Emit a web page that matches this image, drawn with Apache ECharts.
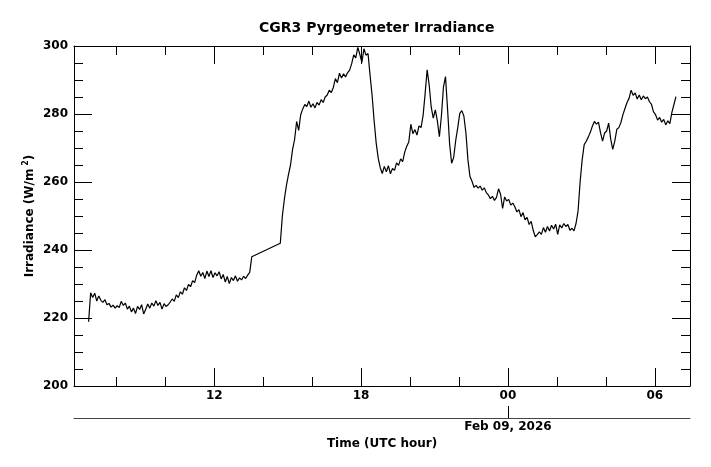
<!DOCTYPE html>
<html>
<head>
<meta charset="utf-8">
<script src="https://cdn.jsdelivr.net/npm/echarts@6/dist/echarts.min.js"></script>
<style>
  html, body { margin: 0; padding: 0; background: #fff; }
  #chart { width: 711px; height: 467px; }
</style>
</head>
<body>
<div id="chart"></div>
<script>
// ---- data (hours since Feb 08 2026 00:00 UTC) ----
const xMin = 6.27;           // left edge of plot (06:16 UTC)
const xMax = 31.44;          // right edge of plot (07:26 UTC next day)
const stepMinutes = 5;

// segment A: starts 06:52 UTC
const startA = 6 + 52 / 60;
const valuesA = [
  218.9, 227.4, 226.0, 227.3, 225.0, 226.5, 225.2, 224.6, 225.4, 223.9,
  224.3, 223.2, 223.8, 222.9, 223.6, 223.1, 224.9, 223.7, 224.4, 222.6,
  223.5, 221.8, 222.9, 221.3, 223.4, 222.5, 223.9, 221.2, 222.6, 224.1,
  222.9, 224.4, 223.5, 225.1, 223.7, 224.6, 222.6, 224.2, 223.4, 223.9,
  224.7, 225.6, 224.9, 226.8, 226.0, 227.7, 227.0, 228.9, 228.1, 229.9,
  229.2, 231.0, 230.4, 232.6, 233.9, 232.3, 233.4, 231.6, 233.8, 232.2,
  233.9, 231.9, 233.3, 232.4, 233.6, 231.5, 232.8, 230.6, 232.2, 230.1,
  231.9, 231.0, 232.4, 230.8, 231.8, 231.2, 232.3, 231.6, 232.6, 233.4,
  238.0
];

// segment B: starts 14:42 UTC (after data gap)
const startB = 14 + 42 / 60;
const valuesB = [
  242.0, 250.0, 255.0, 259.0, 262.2, 265.0, 269.5, 272.5, 277.8, 275.2,
  279.8, 281.5, 282.8, 282.2, 283.8, 282.0, 283.0, 281.8, 283.4, 282.6,
  284.2, 283.4, 285.0, 285.6, 287.0, 286.3, 287.8, 290.4, 289.2, 292.0,
  290.6, 291.8, 290.9, 292.2, 292.9, 294.8, 297.4, 296.5, 299.6, 297.5,
  295.2, 299.2, 297.3, 297.8, 291.5, 285.5, 278.0, 271.5, 267.0, 264.2,
  262.5, 264.6, 263.0, 264.8, 262.4, 264.0, 263.4, 265.6, 264.9, 266.8,
  266.0, 268.8, 270.5, 271.8, 277.0, 274.2, 275.4, 273.8, 276.5, 276.0,
  279.5, 286.0, 293.0, 288.5, 282.0, 278.8, 281.2, 278.0, 273.3, 279.5,
  288.0, 291.0, 281.5, 271.3, 265.5, 267.2, 272.2, 276.0, 280.2, 281.0,
  279.4, 274.5, 266.5, 261.6, 260.2, 258.4, 259.0, 258.2, 258.8, 257.6,
  258.3, 256.9, 256.2, 255.1, 255.8, 254.6, 255.5, 258.0, 256.4, 252.2,
  255.6, 254.4, 254.9, 253.2, 253.8, 252.7, 251.2, 251.9, 249.8, 251.0,
  248.9, 249.6, 247.5, 248.4, 245.8, 243.9, 244.5, 245.3, 244.6, 246.6,
  245.2, 246.9, 245.6, 247.3, 246.2, 247.6, 244.6, 247.4, 246.5, 247.8,
  246.9, 247.5, 245.8, 246.4, 245.6, 247.8, 251.5, 260.0, 266.5, 271.0,
  272.0, 273.2, 274.6, 276.4, 277.8, 277.0, 277.6, 274.5, 272.0, 274.4,
  275.0, 277.3, 272.6, 269.6, 272.0, 275.5, 276.0, 277.5, 279.8, 281.6,
  283.4, 284.6, 287.0, 285.5, 286.2, 284.4, 285.6, 284.2, 285.3, 284.5,
  285.0, 283.6, 282.8, 280.6, 279.8, 278.2, 279.0, 277.6, 278.4, 276.8,
  278.0, 277.2, 280.5, 282.8, 285.1
];

const xTickHours = [12, 18, 24, 30];
const xTickLabels = ['12', '18', '00', '06'];
const dateTickHour = 24;
const dateTickLabel = 'Feb 09, 2026';
const yMin = 200, yMax = 300, yStep = 20;

const titleText = 'CGR3 Pyrgeometer Irradiance';
const xName = 'Time (UTC hour)';

// ---- build series data ----
const data = [];
valuesA.forEach((v, i) => data.push([startA + i * stepMinutes / 60, v]));
valuesB.forEach((v, i) => data.push([startB + i * stepMinutes / 60, v]));

const FONT = 'DejaVu Sans';
function xLabel(v) {
  for (let k = 0; k < xTickHours.length; k++) {
    if (Math.abs(v - xTickHours[k]) < 1e-6) return xTickLabels[k];
  }
  return '';
}

const baseX = {
  type: 'value', min: xMin, max: xMax,
  minInterval: 6, maxInterval: 6,
  axisLine: { show: true, onZero: false, lineStyle: { color: '#000', width: 1 } },
  axisTick: { show: true, inside: true, length: 18, lineStyle: { color: '#000', width: 1 } },
  minorTick: { show: true, splitNumber: 3, length: 9, lineStyle: { color: '#000', width: 1 } },
  splitLine: { show: false }, minorSplitLine: { show: false }
};
const baseY = {
  type: 'value', min: yMin, max: yMax, interval: yStep,
  axisLine: { show: true, onZero: false, lineStyle: { color: '#000', width: 1 } },
  axisTick: { show: true, inside: true, length: 18, lineStyle: { color: '#000', width: 1 } },
  minorTick: { show: true, splitNumber: 4, length: 9, lineStyle: { color: '#000', width: 1 } },
  splitLine: { show: false }, minorSplitLine: { show: false }
};

const chart = echarts.init(document.getElementById('chart'), null, { renderer: 'canvas' });
chart.setOption({
  animation: false,
  backgroundColor: '#fff',
  textStyle: { fontFamily: FONT },
  title: {
    text: titleText, left: 259, top: 21, padding: 0,
    textStyle: { fontFamily: FONT, fontSize: 14, fontWeight: 'bold', color: '#000' }
  },
  grid: { left: 74, right: 21, top: 46, bottom: 81, containLabel: false },
  xAxis: [
    Object.assign({}, baseX, {
      position: 'bottom',
      axisLabel: {
        show: true, formatter: xLabel, showMinLabel: false, showMaxLabel: false,
        margin: 4, fontFamily: FONT, fontSize: 12, fontWeight: 'bold', color: '#000'
      }
    }),
    Object.assign({}, baseX, {
      position: 'top',
      axisLabel: { show: false }
    }),
    {
      type: 'value', min: xMin, max: xMax, position: 'bottom', offset: 32,
      minInterval: 24, maxInterval: 24,
      axisLine: { show: true, onZero: false, lineStyle: { color: '#444', width: 1 } },
      axisTick: { show: true, inside: true, length: 12, lineStyle: { color: '#000', width: 1 } },
      splitLine: { show: false },
      axisLabel: {
        show: true, showMinLabel: false, showMaxLabel: false, margin: 3,
        formatter: v => (Math.abs(v - dateTickHour) < 1e-6 ? dateTickLabel : ''),
        fontFamily: FONT, fontSize: 12, fontWeight: 'bold', color: '#000'
      },
      name: xName, nameLocation: 'middle', nameGap: 13,
      nameTextStyle: { fontFamily: FONT, fontSize: 12, fontWeight: 'bold', color: '#000' }
    }
  ],
  yAxis: [
    Object.assign({}, baseY, {
      position: 'left',
      axisLabel: { show: true, margin: 6, fontFamily: FONT, fontSize: 12, fontWeight: 'bold', color: '#000' },
      name: '{a|Irradiance (W/m}{s| 2}{a|)}',
      nameLocation: 'middle', nameGap: 37, nameMoveOverlap: false,
      nameTextStyle: {
        fontFamily: FONT, fontSize: 12, fontWeight: 'bold', color: '#000',
        rich: {
          a: { fontFamily: FONT, fontSize: 12, fontWeight: 'bold', color: '#000', lineHeight: 15 },
          s: { fontFamily: FONT, fontSize: 8, fontWeight: 'bold', color: '#000', verticalAlign: 'top', lineHeight: 10 }
        }
      }
    }),
    Object.assign({}, baseY, {
      position: 'right',
      axisLabel: { show: false }
    })
  ],
  series: [{
    type: 'line', xAxisIndex: 0, yAxisIndex: 0,
    data: data, showSymbol: false, symbol: 'none',
    lineStyle: { color: '#000', width: 1.2 },
    emphasis: { disabled: true }
  }]
});
</script>
</body>
</html>
